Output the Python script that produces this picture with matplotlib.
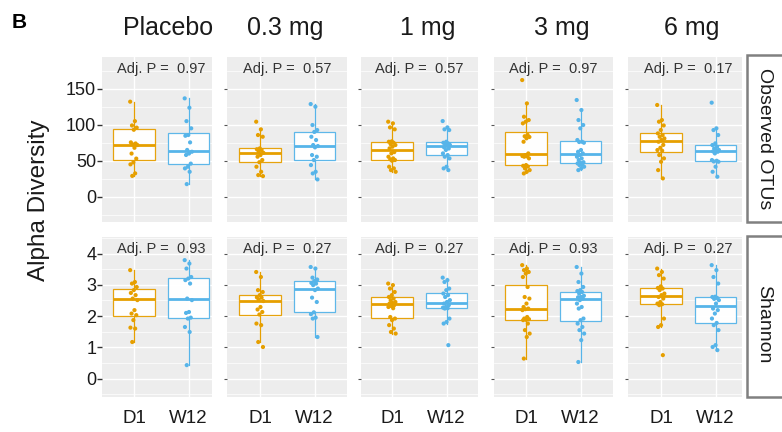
import matplotlib
matplotlib.use("Agg")
import matplotlib.pyplot as plt
from matplotlib.patches import Rectangle
import numpy as np

plt.rcParams['font.family'] = ['Liberation Sans', 'DejaVu Sans']

doses = ["Placebo", "0.3 mg", "1 mg", "3 mg", "6 mg"]
timepoints = ["D1", "W12"]
metrics = ["Observed OTUs", "Shannon"]

# observed OTUs, one list per dose group
otus_d1 = [
    [132, 105, 99, 96, 93, 75.5, 74, 72.7, 71.8, 68, 60, 53, 47.7, 45, 32.5, 29],
    [104.2, 93.6, 85.7, 83.3, 67.2, 66, 64.9, 62.5, 61, 57.9, 55.6, 51, 48, 41.7, 34.7, 30.1, 28.7],
    [104.2, 101.9, 96.3, 93.6, 77, 76.4, 75, 73, 71.8, 69.5, 67.2, 62, 60.2, 55.6, 53.3, 52, 51, 50,
     41.7, 39.4, 37, 34.7],
    [162, 129.6, 111.1, 106.5, 104.2, 101.9, 86, 84, 83, 81.1, 76.4, 60.2, 57.9, 56.5, 56, 55.6,
     53.3, 44, 43, 42, 39.4, 37, 34.7, 32.4],
    [127.4, 106.5, 104.2, 99, 92.6, 88, 85.7, 83.3, 81, 78.8, 76.4, 72, 68, 64.9, 64, 57.9, 53.3,
     48.6, 37, 25.5],
]
otus_w12 = [
    [136.6, 123.6, 105, 95, 85.7, 84.7, 75.5, 65, 62.5, 60, 58, 46, 41.7, 39.4, 34.7, 17.6],
    [128.7, 125, 99.6, 92.6, 90, 83.3, 78.8, 71.8, 70.4, 68.6, 57.9, 55.6, 51, 44, 34.7, 32.4, 24.1],
    [105.1, 96.3, 93.6, 92.6, 76.4, 75, 74.1, 73, 72, 71.8, 68.6, 67, 64.9, 60.2, 57.9, 55.6, 53.3,
     41.7, 39.4, 37],
    [134.3, 120.4, 106.5, 99.6, 95, 78.8, 76.4, 76, 75, 64.9, 62.5, 60.2, 57.9, 55.6, 53.3, 51, 48,
     47, 46.3, 45, 44, 41.7, 39.4, 37],
    [130.6, 95, 92.6, 85.7, 74.1, 71.8, 69.5, 67.2, 65, 64.9, 63, 62.5, 60.2, 51, 50, 49, 48.6,
     41.7, 34.7, 27.8],
]
# Shannon index
shannon_d1 = [
    [3.47, 3.09, 3.04, 2.93, 2.83, 2.74, 2.67, 2.56, 2.51, 2.19, 2.08, 2.03, 1.87, 1.63, 1.60, 1.17],
    [3.41, 3.25, 2.83, 2.77, 2.67, 2.60, 2.59, 2.53, 2.48, 2.29, 2.21, 2.13, 2.05, 1.76, 1.71, 1.17, 1.01],
    [3.04, 2.99, 2.88, 2.77, 2.67, 2.61, 2.56, 2.51, 2.45, 2.42, 2.40, 2.35, 2.32, 2.29, 2.25, 1.97,
     1.92, 1.87, 1.71, 1.60, 1.49, 1.44],
    [3.63, 3.52, 3.47, 3.41, 3.36, 3.25, 2.93, 2.61, 2.56, 2.40, 2.29, 2.24, 2.22, 2.19, 1.97, 1.92,
     1.90, 1.88, 1.87, 1.76, 1.55, 1.44, 1.33, 0.64],
    [3.52, 3.41, 3.31, 3.20, 2.95, 2.90, 2.88, 2.83, 2.72, 2.67, 2.61, 2.56, 2.45, 2.40, 2.38, 2.35,
     1.92, 1.71, 1.65, 0.75],
]
shannon_w12 = [
    [3.79, 3.68, 3.52, 3.25, 3.20, 3.15, 3.04, 2.56, 2.51, 2.13, 2.10, 1.95, 1.92, 1.65, 1.49, 0.43],
    [3.57, 3.52, 3.23, 3.17, 3.12, 3.06, 3.04, 2.99, 2.88, 2.83, 2.59, 2.45, 2.12, 2.06, 1.95, 1.92, 1.33],
    [3.23, 3.15, 3.09, 2.88, 2.83, 2.72, 2.67, 2.61, 2.51, 2.45, 2.40, 2.35, 2.29, 2.27, 2.25, 2.24,
     1.92, 1.81, 1.76, 1.07],
    [3.57, 3.36, 3.09, 2.93, 2.83, 2.80, 2.77, 2.72, 2.65, 2.61, 2.60, 2.56, 2.51, 2.40, 2.29, 2.24,
     1.92, 1.87, 1.76, 1.65, 1.55, 1.44, 1.23, 0.53],
    [3.63, 3.47, 3.25, 3.04, 2.62, 2.61, 2.58, 2.55, 2.51, 2.40, 2.24, 2.19, 2.08, 1.92, 1.78, 1.71,
     1.55, 1.07, 1.01, 0.91],
]
p_otus = ["0.97", "0.57", "0.57", "0.97", "0.17"]
p_shannon = ["0.93", "0.27", "0.27", "0.93", "0.27"]

# layout, in pixels of the 782x432 figure
W, H = 782, 432
panel_left = [101.7, 226.7, 360.7, 494, 628]
panel_right = [211.7, 346.7, 478, 613, 742]
cat1_px = [134, 260, 392, 526, 661]
unit_px = 54.5
row_top = [57, 237]
row_bottom = [222, 397]
ylims = [(-35, 194), (-0.59, 4.53)]
yticks = [[0, 50, 100, 150], [0, 1, 2, 3, 4]]
yminor = [[-25, 25, 75, 125, 175], [-0.5, 0.5, 1.5, 2.5, 3.5, 4.5]]
title_x = [168, 285, 428, 562, 692]

colors = ["#E69F00", "#56B4E9"]
panel_bg = "#EDEDED"

fig = plt.figure(figsize=(W / 100, H / 100), dpi=100)

rows = [(otus_d1, otus_w12, p_otus), (shannon_d1, shannon_w12, p_shannon)]

for r, (d1, w12, pvals) in enumerate(rows):
    for c in range(len(doses)):
        l, rr = panel_left[c], panel_right[c]
        ax = fig.add_axes([l / W, 1 - row_bottom[r] / H, (rr - l) / W,
                           (row_bottom[r] - row_top[r]) / H])
        ax.set_facecolor(panel_bg)
        for s in ax.spines.values():
            s.set_visible(False)

        groups = [d1[c], w12[c]]
        bp = ax.boxplot(groups, positions=[1, 2], widths=0.77, patch_artist=True,
                        showfliers=False, showcaps=False, whis=1.5)
        for k in range(2):
            bp["boxes"][k].set(facecolor="white", edgecolor=colors[k], lw=0.9, alpha=0.95)
            bp["medians"][k].set(color=colors[k], lw=2.0)
            for wk in bp["whiskers"][2 * k:2 * k + 2]:
                wk.set(color=colors[k], lw=0.9)
            vals = np.array(groups[k])
            n = len(vals)
            jit = ((np.arange(n) * 0.618034) % 1 - 0.5) * 0.14
            ax.scatter(k + 1 + jit, vals, s=9, color=colors[k], edgecolors="none", zorder=4)

        ax.set_xlim(1 - (cat1_px[c] - l) / unit_px, 1 + (rr - cat1_px[c]) / unit_px)
        ax.set_ylim(*ylims[r])
        ax.set_yticks(yticks[r])
        ax.set_yticks(yminor[r], minor=True)
        ax.set_xticks([1, 2])
        ax.grid(which="major", color="white", lw=1.0)
        ax.grid(which="minor", axis="y", color="white", lw=0.5)
        ax.set_axisbelow(True)

        ax.text(1.5, ylims[r][1] - (ylims[r][1] - ylims[r][0]) * 16 / (row_bottom[r] - row_top[r]),
                "Adj. P =  " + pvals[c], ha="center", va="baseline", fontsize=10.5,
                color="#333333")

        if c == 0:
            ax.tick_params(axis="y", which="major", labelsize=13, length=3.5, width=1,
                           color="#333333", pad=0.5, labelcolor="#1a1a1a")
        else:
            ax.tick_params(axis="y", which="major", labelleft=False, length=2.5, width=0.8,
                           color="#555555")
        ax.tick_params(axis="y", which="minor", length=0)
        if r == 1:
            ax.set_xticklabels(timepoints)
            ax.tick_params(axis="x", length=0, labelsize=13.5, pad=9.5, labelcolor="#1a1a1a")
        else:
            ax.tick_params(axis="x", length=0, labelbottom=False)

# column titles
for c, d in enumerate(doses):
    fig.text(title_x[c] / W, 1 - 35 / H, d, ha="center", va="baseline", fontsize=18,
             color="#1a1a1a")

# row strips on the right
strip_tops = [55, 236]
strip_bottoms = [222, 397]
strip_text_y = [139, 324]
for r, m in enumerate(metrics):
    fig.patches.append(Rectangle((747 / W, 1 - strip_bottoms[r] / H), 50 / W,
                                 (strip_bottoms[r] - strip_tops[r]) / H,
                                 transform=fig.transFigure, facecolor="white",
                                 edgecolor="#808080", lw=1.8))
    fig.text(764 / W, 1 - strip_text_y[r] / H, m, rotation=-90, ha="center", va="center",
             fontsize=14, color="#1a1a1a")

fig.text(39 / W, 1 - 200 / H, "Alpha Diversity", rotation=90, ha="center", va="center",
         fontsize=17.5, color="#1a1a1a")
fig.text(12 / W, 1 - 28 / H, "B", ha="left", va="baseline", fontsize=15, fontweight="bold")

fig.savefig("out.png", dpi=100)
